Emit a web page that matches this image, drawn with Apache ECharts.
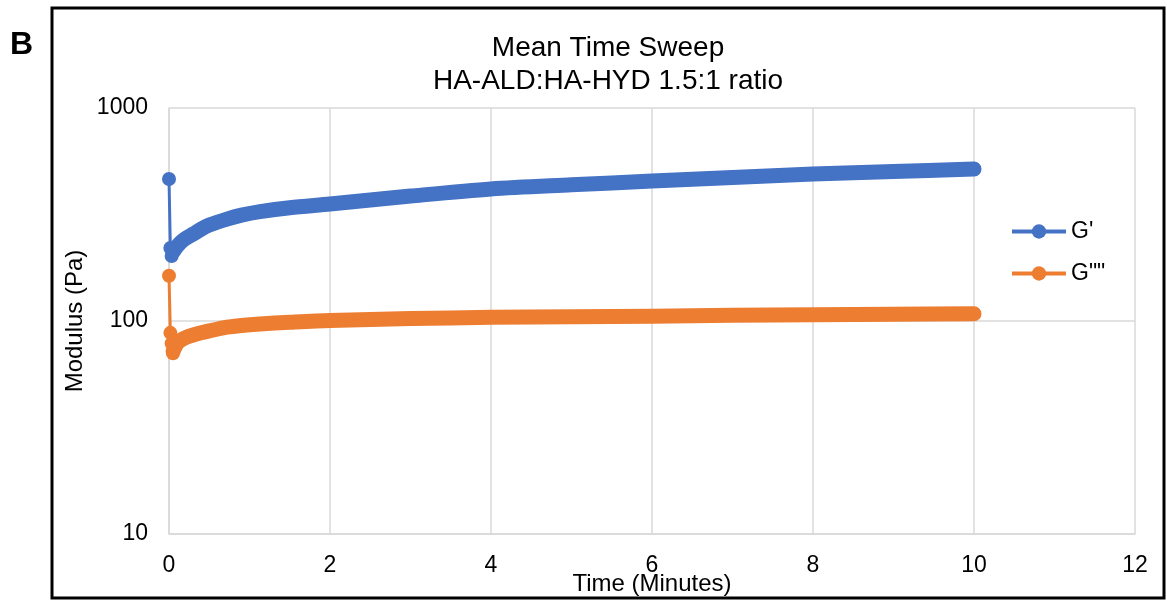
<!DOCTYPE html>
<html>
<head>
<meta charset="utf-8">
<title>Mean Time Sweep</title>
<script src="https://cdn.jsdelivr.net/npm/echarts@6/dist/echarts.min.js"></script>
<style>
  html, body { margin: 0; padding: 0; background: #fff; }
  #chart { width: 1167px; height: 600px; }
</style>
</head>
<body>
<div id="chart"></div>
<script>
// first readings (drop at t = 0), drawn as single markers
const gPrimeStartTime = [0, 0.017, 0.033]
const gPrimeStart = [464, 220, 202]
const gDoubleStartTime = [0, 0.017, 0.033, 0.05]
const gDoubleStart = [163, 88, 78.5, 70.5]

// rest of the sweep (dense markers -> thick band)
const sweepTime = [0.05, 0.1, 0.15, 0.22, 0.3, 0.4, 0.5, 0.72, 0.9, 1.13, 1.5, 2, 3, 4, 5, 6, 7, 8, 9, 10]
const gPrime = [211, 224, 235, 246, 256, 270, 282, 301, 314, 326, 340, 354, 386, 417, 436, 454, 472, 490, 503, 517]
const gDouble = [72, 78.5, 81.5, 84, 86, 88, 89.8, 93.5, 95.3, 96.8, 98.6, 100.6, 102.7, 104, 104.7, 105.4, 106.3, 107.1, 107.7, 108.1]

const xTicks = [0, 2, 4, 6, 8, 10, 12]
const yTicks = [10, 100, 1000]

const BLUE = '#4472C4'
const ORANGE = '#ED7D31'
const FONT = '"Liberation Sans", Arial, sans-serif'

const zip = (xs, ys) => xs.map((x, i) => [x, ys[i]])

const chart = echarts.init(document.getElementById('chart'))

const option = {
  animation: false,
  textStyle: { fontFamily: FONT, color: '#000' },
  title: {
    text: 'Mean Time Sweep\nHA-ALD:HA-HYD 1.5:1 ratio',
    left: 608,
    top: 32,
    padding: 0,
    textAlign: 'center',
    textStyle: {
      fontFamily: FONT,
      fontSize: 28,
      fontWeight: 'normal',
      color: '#000',
      lineHeight: 33,
    },
  },
  legend: {
    orient: 'vertical',
    left: 1010,
    top: 220,
    padding: 0,
    itemWidth: 54,
    itemHeight: 18,
    itemGap: 19,
    data: ["G'", 'G""'],
    lineStyle: { width: 4 },
    textStyle: { fontFamily: FONT, fontSize: 23, color: '#000' },
  },
  grid: {
    left: 169,
    right: 32,
    top: 108,
    bottom: 66,
    outerBoundsMode: 'none',
  },
  xAxis: {
    type: 'value',
    min: xTicks[0],
    max: xTicks[xTicks.length - 1],
    interval: 2,
    name: 'Time (Minutes)',
    nameLocation: 'middle',
    nameGap: 38,
    nameMoveOverlap: false,
    nameTextStyle: { fontFamily: FONT, fontSize: 24, color: '#000' },
    axisLine: { lineStyle: { color: '#d9d9d9', width: 1.5 } },
    axisTick: { show: false },
    axisLabel: { fontFamily: FONT, fontSize: 23, color: '#000', margin: 20 },
    splitLine: { show: true, lineStyle: { color: '#d9d9d9', width: 1.5 } },
  },
  yAxis: {
    type: 'log',
    logBase: 10,
    min: yTicks[0],
    max: yTicks[yTicks.length - 1],
    name: 'Modulus (Pa)',
    nameLocation: 'middle',
    nameGap: 82,
    nameMoveOverlap: false,
    nameTextStyle: { fontFamily: FONT, fontSize: 24, color: '#000' },
    axisLine: { show: true, lineStyle: { color: '#d9d9d9', width: 1.5 } },
    axisTick: { show: false },
    axisLabel: {
      fontFamily: FONT,
      fontSize: 23,
      color: '#000',
      margin: 21,
      formatter: v => String(Math.round(v)),
    },
    splitLine: { show: true, lineStyle: { color: '#d9d9d9', width: 1.5 } },
    minorSplitLine: { show: false },
  },
  series: [
    {
      name: "G'",
      type: 'line',
      data: zip(gPrimeStartTime, gPrimeStart),
      color: BLUE,
      symbol: 'circle',
      symbolSize: 14,
      lineStyle: { width: 3 },
      z: 3,
    },
    {
      name: 'G""',
      type: 'line',
      data: zip(gDoubleStartTime, gDoubleStart),
      color: ORANGE,
      symbol: 'circle',
      symbolSize: 14,
      lineStyle: { width: 3 },
      z: 3,
    },
    {
      name: "G'",
      type: 'line',
      data: zip(sweepTime, gPrime),
      color: BLUE,
      showSymbol: false,
      smooth: 0.3,
      lineStyle: { width: 15, cap: 'round', join: 'round' },
      z: 2,
    },
    {
      name: 'G""',
      type: 'line',
      data: zip(sweepTime, gDouble),
      color: ORANGE,
      showSymbol: false,
      smooth: 0.3,
      lineStyle: { width: 15, cap: 'round', join: 'round' },
      z: 2,
    },
  ],
  graphic: [
    {
      // panel frame
      type: 'rect',
      shape: { x: 52, y: 8, width: 1112, height: 590 },
      style: { fill: 'none', stroke: '#000', lineWidth: 3 },
      silent: true,
    },
    {
      type: 'text',
      left: 10,
      top: 29,
      style: { text: 'B', fontFamily: FONT, fontSize: 32, fontWeight: 'bold', fill: '#000' },
    },
  ],
}

chart.setOption(option)
</script>
</body>
</html>
